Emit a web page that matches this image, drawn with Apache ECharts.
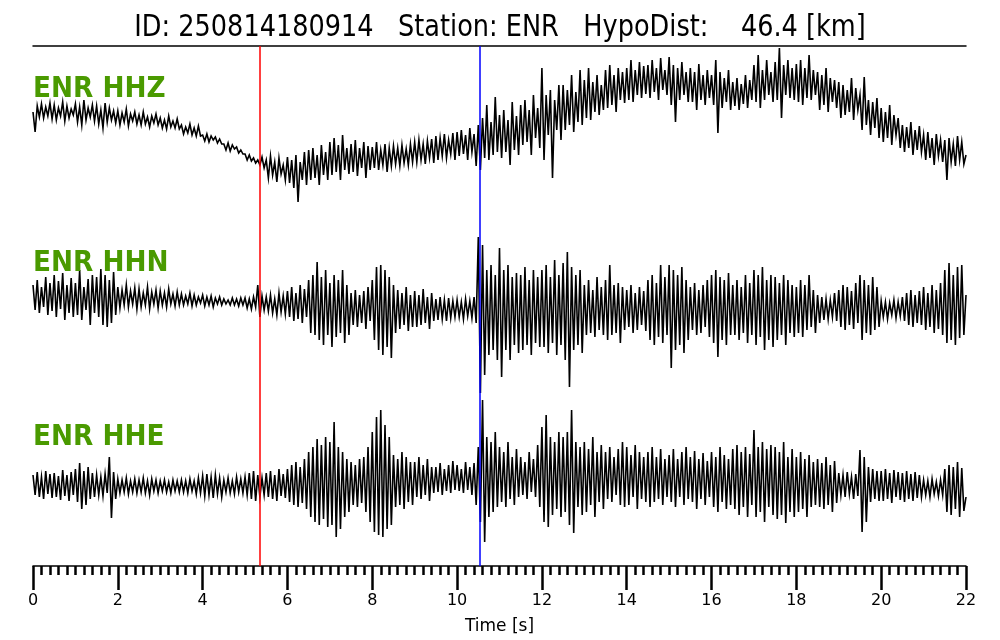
<!DOCTYPE html>
<html>
<head>
<meta charset="utf-8">
<script src="https://cdn.jsdelivr.net/npm/echarts@6/dist/echarts.min.js"></script>
<style>
html,body{margin:0;padding:0;background:#fff;}
#chart{width:1000px;height:640px;}
</style>
</head>
<body>
<div id="chart"></div>
<script>
// sampling: one value every 0.05 s from 0 to 22 s (441 samples)
const dt = 0.05;
const titleText = 'ID: 250814180914   Station: ENR   HypoDist:    46.4 [km]';
const channels = ['ENR HHZ', 'ENR HHN', 'ENR HHE'];
const pickP = 5.35;   // red pick [s]
const pickS = 10.54;  // blue pick [s]
const xTicks = [0, 2, 4, 6, 8, 10, 12, 14, 16, 18, 20, 22];

// trace amplitudes (relative units, up positive)
const hhz = [
18,-2,24,13,26,12,23,14,27,11,
25,10,22,14,28,9,24,12,21,15,
26,8,23,5,30,10,22,13,25,9,
24,6,20,2,27,8,22,10,19,7,
19,5,17,8,21,4,16,9,18,6,
15,5,18,6,13,3,14,7,16,5,
12,2,10,1,14,3,9,2,11,1,
5,-4,3,-3,6,-5,2,-6,4,-6,
-5,-11,-4,-12,-6,-10,-7,-13,-9,-14,
-14,-20,-13,-21,-15,-19,-17,-23,-20,-24,
-24,-30,-25,-31,-28,-33,-30,-35,-27,-38,
-30,-48,-26,-45,-32,-52,-28,-44,-35,-50,
-27,-53,-30,-58,-25,-72,-32,-50,-22,-55,
-20,-50,-18,-48,-25,-55,-15,-45,-22,-50,
-12,-45,-8,-42,-15,-50,-5,-40,-18,-44,
-14,-42,-10,-46,-18,-38,-12,-48,-16,-40,
-17,-38,-12,-40,-20,-35,-14,-42,-18,-36,
-16,-34,-18,-36,-15,-33,-19,-35,-14,-32,
-12,-32,-10,-30,-14,-34,-11,-28,-9,-33,
-6,-30,-8,-26,-4,-28,-10,-24,-3,-30,
-2,-26,0,-24,-5,-30,2,-22,-4,-36,
5,-40,12,-28,25,-30,8,-25,33,-22,
15,-28,20,-22,10,-35,28,-20,14,-25,
25,-15,30,-12,20,-25,35,-8,22,-18,
62,-30,35,-5,40,-48,30,0,45,-10,
45,0,40,5,55,-2,38,8,60,5,
50,12,62,10,48,18,55,15,45,20,
60,22,65,25,55,18,62,30,58,27,
62,30,70,28,60,35,68,32,64,36,
65,32,70,38,62,30,72,40,60,35,
73,25,65,8,62,30,68,35,58,28,
62,28,58,20,66,30,55,25,60,32,
55,25,70,-3,58,22,52,28,60,20,
48,24,52,20,46,26,55,22,50,30,
65,28,75,22,60,30,70,35,58,28,
68,30,82,12,65,35,70,32,62,30,
66,28,70,25,62,32,75,30,60,35,
58,20,55,25,62,18,52,28,50,22,
48,12,45,15,40,18,52,10,42,20,
35,0,53,5,30,-5,28,2,32,-8,
22,-12,18,-8,25,-15,15,-5,12,-18,
5,-22,3,-18,8,-25,0,-20,4,-22,
-5,-30,-2,-28,-8,-35,-4,-26,-10,-32,
-10,-50,-8,-32,-14,-36,-6,-30,-12,-34,
-25];

const hhn = [
20,-5,25,-8,18,-2,28,-10,22,-6,
30,-12,24,-4,32,-15,20,-8,27,-12,
22,-10,35,-15,18,-5,26,-20,30,-8,
28,-12,36,-20,30,-22,25,-18,33,-10,
18,-3,15,0,20,-2,14,1,17,-4,
16,-2,12,0,18,-4,13,1,15,-3,
14,0,12,-2,16,1,11,-1,13,0,
11,0,9,1,12,-1,10,0,8,2,
10,-1,8,0,9,-2,7,1,8,0,
6,1,5,0,7,0,6,-1,7,0,
7,-3,6,-4,8,-2,20,-12,9,-5,
8,-6,10,-8,6,-10,12,-7,9,-9,
14,-12,18,-16,12,-14,20,-18,16,-12,
25,-28,30,-30,43,-35,28,-40,35,-30,
22,-42,30,-32,25,-28,35,-38,20,-30,
12,-20,15,-22,10,-18,14,-24,18,-16,
25,-35,38,-45,40,-50,35,-42,28,-53,
20,-28,15,-24,12,-20,18,-26,10,-22,
14,-22,10,-20,16,-18,8,-24,12,-16,
6,-15,8,-14,5,-16,7,-13,4,-12,
5,-12,3,-14,6,-11,4,-13,8,-18,
68,-88,60,-70,35,-50,40,-45,30,-55,
57,-72,35,-45,40,-55,28,-40,32,-48,
30,-45,38,-40,25,-50,35,-38,28,-42,
35,-42,40,-48,28,-38,45,-50,30,-40,
42,-55,53,-82,38,-45,30,-40,35,-48,
20,-30,25,-28,15,-32,28,-25,18,-30,
25,-35,40,-30,20,-28,22,-38,18,-25,
15,-22,20,-28,12,-25,18,-20,14,-26,
25,-35,30,-40,22,-32,40,-38,28,-30,
40,-63,35,-45,30,-40,38,-48,25,-35,
18,-25,22,-30,15,-28,20,-22,25,-32,
30,-38,35,-52,28,-35,25,-40,32,-30,
20,-30,25,-35,18,-28,30,-38,22,-30,
35,-40,30,-32,38,-45,25,-35,30,-42,
28,-35,22,-30,30,-40,25,-28,20,-32,
18,-28,25,-32,20,-25,30,-22,15,-28,
10,-18,8,-15,6,-14,5,-12,12,-16,
15,-22,20,-25,18,-20,14,-24,22,-18,
30,-35,25,-28,20,-30,28,-25,18,-22,
4,-12,3,-14,2,-10,5,-13,3,-11,
8,-16,12,-20,15,-22,10,-18,14,-20,
18,-25,12,-22,20,-28,15,-24,22,-30,
35,-38,42,-35,30,-40,38,-33,40,-30,
10];

const hhe = [
12,-8,15,-10,10,-12,16,-7,13,-11,
14,-10,11,-13,17,-9,12,-14,15,-8,
18,-15,24,-22,16,-18,20,-12,14,-10,
12,-8,10,-9,13,-6,30,-31,15,-12,
8,-6,7,-5,9,-7,6,-5,8,-6,
7,-5,9,-6,6,-8,8,-4,7,-6,
6,-4,7,-5,5,-6,7,-4,6,-5,
7,-5,6,-6,8,-4,6,-7,9,-6,
11,-9,13,-8,10,-11,12,-7,9,-10,
7,-5,9,-6,6,-7,10,-5,8,-6,
10,-8,14,-12,16,-14,12,-10,9,-8,
14,-10,16,-12,12,-14,18,-9,13,-11,
18,-15,22,-18,25,-20,20,-16,28,-22,
35,-30,40,-35,48,-38,42,-32,50,-40,
45,-38,65,-50,40,-42,35,-30,28,-25,
25,-18,22,-20,28,-16,30,-25,40,-35,
55,-45,70,-48,77,-50,62,-42,50,-38,
32,-20,28,-18,35,-22,30,-15,25,-18,
25,-10,30,-12,22,-8,28,-14,20,-6,
20,-5,24,-8,18,-4,22,-6,26,-3,
22,-4,18,-6,25,-3,20,-8,24,-18,
40,-35,87,-55,50,-30,45,-25,55,-20,
40,-15,35,-20,45,-12,30,-18,38,-10,
30,-8,25,-12,35,-5,28,-10,42,-20,
60,-35,72,-40,50,-28,45,-22,55,-30,
50,-25,55,-38,77,-46,45,-20,40,-28,
45,-25,38,-18,50,-30,35,-15,42,-22,
35,-12,40,-15,30,-8,38,-18,45,-20,
40,-18,32,-10,42,-22,35,-12,30,-15,
35,-20,40,-15,30,-12,38,-18,28,-10,
32,-15,38,-20,28,-10,35,-18,40,-12,
30,-15,36,-22,28,-12,34,-18,26,-10,
35,-20,30,-25,40,-15,32,-22,28,-18,
38,-22,42,-28,35,-20,40,-30,33,-18,
57,-30,40,-25,45,-35,38,-20,42,-28,
40,-32,35,-28,45,-36,30,-25,38,-30,
30,-25,35,-22,28,-30,32,-20,25,-18,
28,-20,24,-22,30,-18,22,-25,26,-16,
14,-8,12,-10,15,-7,10,-12,13,-9,
37,-45,30,-35,20,-15,18,-12,16,-14,
16,-14,18,-12,14,-16,17,-10,15,-13,
14,-15,16,-12,13,-14,15,-11,12,-10,
7,-8,6,-10,8,-7,5,-9,7,-8,
18,-25,22,-28,20,-22,25,-30,19,-24,
-10];

// layout: each trace is drawn around its own baseline in the shared plot
const baselines = [436, 261, 79];
const traces = [hhz, hhn, hhe];

function build(arr, base) {
  return arr.map((v, i) => [Math.round(i * dt * 100) / 100, base + v]);
}

const chart = echarts.init(document.getElementById('chart'), null, {renderer: 'canvas'});

const series = traces.map((tr, k) => ({
  type: 'line',
  name: channels[k],
  data: build(tr, baselines[k]),
  showSymbol: false,
  symbol: 'none',
  lineStyle: {color: '#000', width: 1.6, join: 'miter'},
  animation: false,
  silent: true,
  z: 2
}));
series.push({
  type: 'line',
  data: [],
  animation: false,
  silent: true,
  z: 5,
  markLine: {
    symbol: ['none', 'none'],
    silent: true,
    animation: false,
    label: {show: false},
    data: [
      {xAxis: pickP, lineStyle: {color: '#ff0000', width: 1.5, type: 'solid'}},
      {xAxis: pickS, lineStyle: {color: '#0000ff', width: 1.5, type: 'solid'}}
    ]
  }
});

const labelY = [90, 264, 438];
const graphics = [{
  type: 'text', x: 500, y: 28, scaleX: 0.853, z: 100,
  style: {text: titleText, font: '30px "DejaVu Sans"', fill: '#000', textAlign: 'center', textVerticalAlign: 'middle'}
}];
channels.forEach((c, k) => graphics.push({
  type: 'text', x: 33, y: labelY[k], scaleX: 0.94, z: 100,
  style: {text: c, font: 'bold 28px "DejaVu Sans"', fill: '#4a9a00', textAlign: 'left', textVerticalAlign: 'middle'}
}));

chart.setOption({
  animation: false,
  backgroundColor: '#fff',
  grid: {left: 33, right: 34, top: 46, bottom: 74, containLabel: false},
  xAxis: [{
    type: 'value', min: 0, max: 22, interval: 2, position: 'bottom',
    name: 'Time [s]', nameLocation: 'middle', nameGap: 52,
    nameTextStyle: {color: '#000', fontSize: 17, fontFamily: 'DejaVu Sans'},
    axisLine: {show: true, lineStyle: {color: '#000', width: 1.5}},
    axisTick: {show: true, inside: false, length: 24, lineStyle: {color: '#000', width: 2.5}},
    minorTick: {show: true, splitNumber: 10, length: 9, lineStyle: {color: '#000', width: 2.5}},
    axisLabel: {color: '#000', fontSize: 16, fontFamily: 'DejaVu Sans', margin: 27,
      formatter: v => xTicks.indexOf(v) >= 0 ? String(v) : ''},
    splitLine: {show: false}
  }, {
    type: 'value', min: 0, max: 22, position: 'top',
    axisLine: {show: true, lineStyle: {color: '#000', width: 1.5}},
    axisTick: {show: false}, axisLabel: {show: false}, splitLine: {show: false}
  }],
  yAxis: {type: 'value', min: 0, max: 520, show: false, splitLine: {show: false}},
  series: series,
  graphic: graphics
});
</script>
</body>
</html>
